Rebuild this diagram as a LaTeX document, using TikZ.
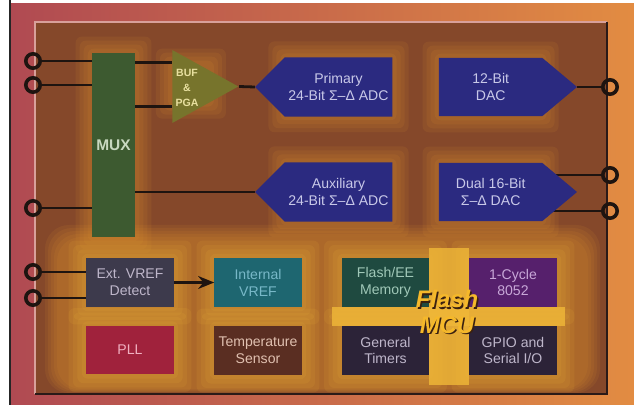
\documentclass[tikz,border=0pt]{standalone}
\usepackage{fontspec}
\setmainfont{Liberation Sans}
\usetikzlibrary{shapes.symbols,shapes.geometric,arrows.meta}

\pgfdeclarelayer{background}
\pgfdeclarelayer{wires}
\pgfsetlayers{background,wires,main}

\definecolor{outerleft}{HTML}{B04A52}
\definecolor{outerright}{HTML}{E28C42}
\definecolor{chipfill}{HTML}{85482A}
\definecolor{chiplight}{HTML}{D8A09A}
\definecolor{chipdark}{HTML}{2A1A18}
\definecolor{wirecol}{HTML}{1E1410}
\definecolor{glowcol}{HTML}{E0952E}
\definecolor{goldcol}{HTML}{F0B838}
\definecolor{adcblue}{HTML}{2B2A80}
\definecolor{adctext}{HTML}{C8C8E8}
\definecolor{muxgreen}{HTML}{3D5A30}
\definecolor{muxtext}{HTML}{C8D8C0}
\definecolor{bufolive}{HTML}{77742C}
\definecolor{buftext}{HTML}{E8E0A0}
\definecolor{extfill}{HTML}{3D3A4C}
\definecolor{intfill}{HTML}{1E6670}
\definecolor{inttext}{HTML}{78B8C8}
\definecolor{pllfill}{HTML}{A0223C}
\definecolor{plltext}{HTML}{F0B0C0}
\definecolor{tempfill}{HTML}{5A2E22}
\definecolor{temptext}{HTML}{E0C0B0}
\definecolor{flashfill}{HTML}{1F4A40}
\definecolor{flashtext}{HTML}{A0C8B8}
\definecolor{cpufill}{HTML}{56206C}
\definecolor{cputext}{HTML}{C8A8D8}
\definecolor{darkfill}{HTML}{2C2338}
\definecolor{darktext}{HTML}{BEB6CA}
\definecolor{mcutext}{HTML}{F5B82A}
\definecolor{mcushade}{HTML}{3A2010}

\tikzset{
    wire/.style={draw=wirecol, line width=0.7mm},
    pin/.style={circle, draw=wirecol, line width=0.9mm, minimum size=3.6mm, inner sep=0pt},
    block/.style={rectangle, minimum width=21.75mm, minimum height=12mm, inner sep=0pt,
        align=center, font=\fontsize{10}{12}\selectfont},
    adc/.style={signal, signal to=west, fill=adcblue, text=adctext, minimum width=34.25mm,
        minimum height=14.75mm, inner sep=0pt, align=center, font=\fontsize{10}{12}\selectfont},
    dac/.style={adc, signal to=east, signal pointer angle=80, minimum width=34.5mm, minimum height=14.5mm},
    halo/.style={fill=#1, opacity=0.11, rounded corners=1.5mm},
}

\begin{document}
\begin{tikzpicture}[x=0.025cm, y=-0.025cm, >=Stealth]
    \useasboundingbox (0,0) rectangle (634,405);

    % chip and surroundings
    \begin{pgfonlayer}{background}
        \fill[white] (0,0) rectangle (634,405);
        \shade[left color=outerleft, right color=outerright] (11,4) rectangle (634,405);
        \draw[black!85, line width=0.5mm] (10,0) -- (10,405);
        \fill[chipfill] (35,22) rectangle (607,394);
        \draw[chiplight, line width=0.5mm] (35,394) -- (35,22) -- (607,22);
        \draw[chipdark, line width=0.6mm] (607,22) -- (607,394) -- (35,394);
        \foreach \g in {1,...,5}
            \fill[halo=glowcol, rounded corners=6mm] (60-3*\g,240-3*\g) rectangle (585+3*\g,388+\g);
    \end{pgfonlayer}

    % pins
    \node[pin] (pinL1) at (33,61) {};
    \node[pin] (pinL2) at (33,85) {};
    \node[pin] (pinL3) at (33,208) {};
    \node[pin] (pinL4) at (33,272) {};
    \node[pin] (pinL5) at (33,298) {};
    \node[pin] (pinR1) at (610,87) {};
    \node[pin] (pinR2) at (610,175) {};
    \node[pin] (pinR3) at (610,211) {};

    % analog front end
    \node[rectangle, fill=muxgreen, text=muxtext, minimum width=10.75mm, minimum height=46mm,
        inner sep=0pt, font=\fontsize{11}{13}\selectfont\bfseries] (mux) at (113.5,145) {MUX};
    \node[isosceles triangle, isosceles triangle stretches, fill=bufolive, minimum width=18.25mm,
        minimum height=16.5mm, inner sep=0pt, anchor=west] (buf) at (172,86.5) {};
    \node[text=buftext, align=center, font=\fontsize{7.5}{10.5}\selectfont\bfseries] (buftext) at (187,88) {BUF\\\&\\PGA};
    \coordinate (bufin1) at ([yshift=5.9mm]buf.west);
    \coordinate (bufin2) at ([yshift=-5.1mm]buf.west);
    \node[adc] (adcA) at (338.5,87) {Primary\\24-Bit Σ–Δ ADC};
    \node[adc] (adcB) at (338.5,192) {Auxiliary\\24-Bit Σ–Δ ADC};
    \node[dac] (dacA) at (490.7,87) {12-Bit\\DAC};
    \node[dac] (dacB) at (490.7,192) {Dual 16-Bit\\Σ–Δ DAC};

    % reference, clock and MCU blocks
    \node[block, fill=extfill, text=darktext] (extref) at (130,282.5) {Ext. VREF\\Detect};
    \node[block, fill=intfill, text=inttext] (intref) at (258,282.5) {Internal\\VREF};
    \node[block, fill=pllfill, text=plltext] (pll) at (130,350) {PLL};
    \node[block, fill=tempfill, text=temptext] (temp) at (258,350.5) {Temperature\\Sensor};
    \node[block, fill=flashfill, text=flashtext] (flashee) at (385.5,282.5) {Flash/EE\\Memory};
    \node[block, fill=cpufill, text=cputext] (cpu) at (513,282.5) {1-Cycle\\8052};
    \node[block, fill=darkfill, text=darktext] (timers) at (385.5,350.5) {General\\Timers};
    \node[block, fill=darkfill, text=darktext] (gpio) at (513,350.5) {GPIO and\\Serial I/O};

    \node[text=mcushade, align=center, font=\fontsize{17}{18}\selectfont\bfseries\itshape]
        (mcushadow) at (448.5,313.5) {Flash\\MCU};
    \node[text=mcutext, align=center, font=\fontsize{17}{18}\selectfont\bfseries\itshape]
        (mcu) at (447,312) {Flash\\MCU};

    % halos round the blocks
    \begin{pgfonlayer}{background}
        \foreach \b in {mux,buf,adcA,adcB,dacA,dacB}
            \foreach \g in {1,...,4}
                \fill[halo=glowcol] ([shift={(-\g*1mm,\g*1mm)}]\b.north west)
                    rectangle ([shift={(\g*1mm,-\g*1mm)}]\b.south east);
        \foreach \b in {extref,intref,pll,temp,flashee,cpu,timers,gpio}
            \foreach \g in {1,...,4}
                \fill[halo=goldcol] ([shift={(-\g*1.1mm,\g*1.1mm)}]\b.north west)
                    rectangle ([shift={(\g*1.1mm,-\g*1.1mm)}]\b.south east);
        \fill[goldcol, opacity=0.8] ([xshift=-2.5mm]flashee.south west) rectangle ([xshift=2mm]gpio.north east);
        \fill[goldcol, opacity=0.8] ([yshift=2.5mm]flashee.north east) rectangle ([yshift=-2.5mm]gpio.south west);
    \end{pgfonlayer}

    % connections
    \begin{pgfonlayer}{wires}
        \draw[wire] (pinL1) -- (mux.west |- pinL1);
        \draw[wire] (pinL2) -- (mux.west |- pinL2);
        \draw[wire] (pinL3) -- (mux.west |- pinL3);
        \draw[wire] (mux.east |- bufin1) -- (bufin1);
        \draw[wire] (mux.east |- bufin2) -- (bufin2);
        \draw[wire] (buf.apex) -- (adcA.west);
        \draw[wire] (mux.east |- adcB.west) -- (adcB.west);
        \draw[wire] (dacA.east) -- (pinR1);
        \draw[wire] (dacB.center |- pinR2) -- (pinR2);
        \draw[wire] (dacB.center |- pinR3) -- (pinR3);
        \draw[wire] (pinL4) -- (extref.west |- pinL4);
        \draw[wire] (pinL5) -- (extref.west |- pinL5);
    \end{pgfonlayer}
    \draw[wire, -{Stealth[length=4mm, width=3.2mm]}] (extref) -- (intref);
\end{tikzpicture}
\end{document}
